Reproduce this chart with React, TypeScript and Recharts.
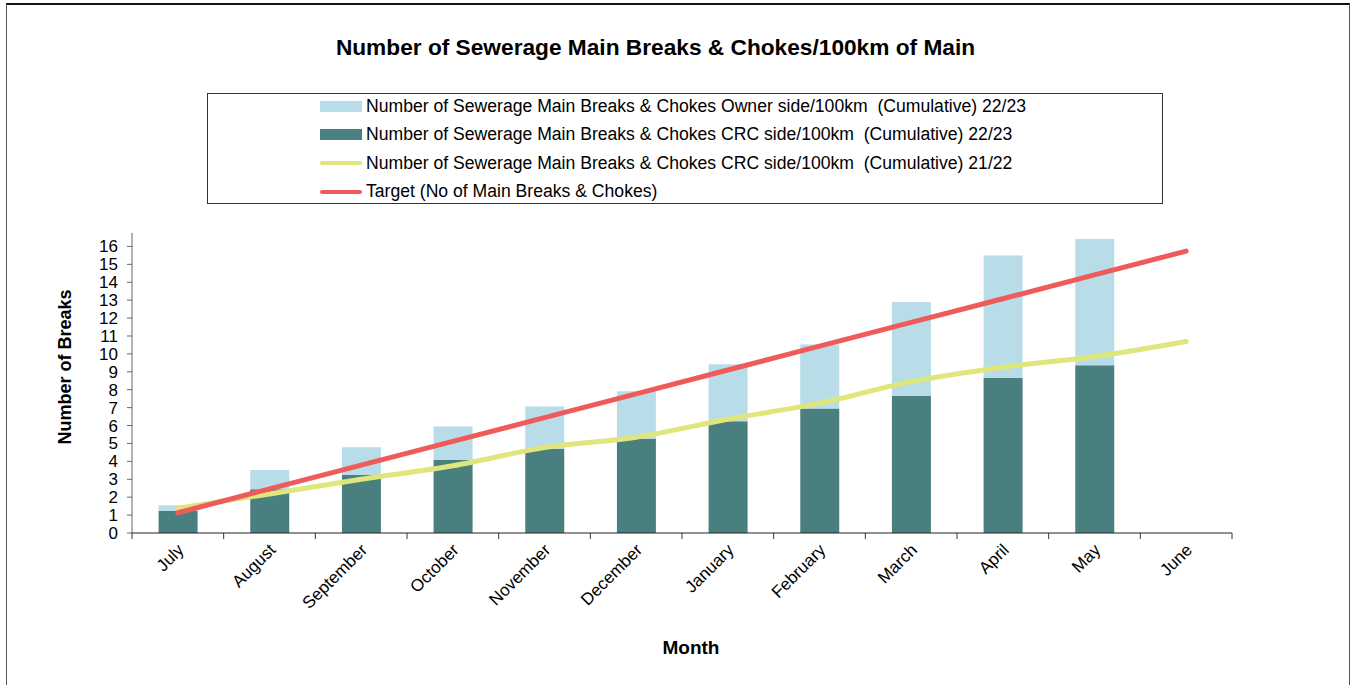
import { ComposedChart, Bar, Line, XAxis, YAxis, Label } from "recharts";

const months = [
  "July", "August", "September", "October", "November", "December",
  "January", "February", "March", "April", "May", "June",
];
// CRC side cumulative 22/23 (dark bars)
const crc2223 = [1.23, 2.44, 3.24, 4.08, 4.69, 5.25, 6.24, 6.95, 7.67, 8.66, 9.37, null];
// Owner side cumulative 22/23 (light bars, stacked on top)
const owner2223 = [0.32, 1.08, 1.55, 1.86, 2.37, 2.67, 3.18, 3.57, 5.23, 6.83, 7.05, null];
// CRC side cumulative 21/22 (yellow line)
const crc2122 = [1.38, 2.18, 3.0, 3.75, 4.77, 5.35, 6.35, 7.25, 8.45, 9.26, 9.85, 10.69];
// Target (red line)
const target = [1.13, 2.46, 3.79, 5.12, 6.44, 7.77, 9.1, 10.43, 11.76, 13.08, 14.41, 15.74];
const yTicks = [0, 1, 2, 3, 4, 5, 6, 7, 8, 9, 10, 11, 12, 13, 14, 15, 16];

const data = months.map((m, i) => ({
  month: m,
  crc: crc2223[i],
  owner: owner2223[i],
  prev: crc2122[i],
  target: target[i],
}));

const FONT = '"Liberation Sans", Arial, sans-serif';
const LIGHT = "#B8DDE8";
const DARK = "#4A7F80";
const YELLOW = "#DEE67C";
const RED = "#EF5B5B";

const PLOT_LEFT = 132;
const PLOT_RIGHT = 1232;
const BAND = (PLOT_RIGHT - PLOT_LEFT) / months.length;

const MonthTick = (props: any) => {
  const { x, y, payload, index } = props;
  return (
    <g>
      <line x1={x - BAND / 2} y1={y} x2={x - BAND / 2} y2={y + 6} stroke="#333" />
      {index === months.length - 1 && (
        <line x1={x + BAND / 2} y1={y} x2={x + BAND / 2} y2={y + 6} stroke="#333" />
      )}
      <text
        x={x + 7}
        y={y + 18}
        transform={`rotate(-45, ${x + 7}, ${y + 18})`}
        textAnchor="end"
        fontSize={17}
        fontFamily={FONT}
        fill="#000"
      >
        {payload.value}
      </text>
    </g>
  );
};

const legendItems = [
  { label: "Number of Sewerage Main Breaks & Chokes Owner side/100km  (Cumulative) 22/23", color: LIGHT, bar: true },
  { label: "Number of Sewerage Main Breaks & Chokes CRC side/100km  (Cumulative) 22/23", color: DARK, bar: true },
  { label: "Number of Sewerage Main Breaks & Chokes CRC side/100km  (Cumulative) 21/22", color: YELLOW, bar: false },
  { label: "Target (No of Main Breaks & Chokes)", color: RED, bar: false },
];

export default function App() {
  return (
    <div style={{ position: "absolute", left: 0, top: 0, width: 1353, height: 685, background: "#fff", overflow: "hidden", fontFamily: FONT }}>
      <div style={{ position: "absolute", left: 6, top: 3, width: 1342, height: 700, border: "1px solid #555", borderTop: "2px solid #111" }} />
      <div style={{ position: "absolute", left: 0, width: 1311, top: 34, textAlign: "center", fontSize: 22.7, fontWeight: "bold", color: "#000" }}>
        Number of Sewerage Main Breaks &amp; Chokes/100km of Main
      </div>
      <div style={{ position: "absolute", left: 207, top: 93, width: 956, height: 111, border: "1px solid #333", boxSizing: "border-box" }}>
        {legendItems.map((it, i) => (
          <div key={i} style={{ position: "absolute", left: 112, top: 0 + i * 28.5, height: 24, display: "flex", alignItems: "center", fontSize: 17.6, whiteSpace: "pre", color: "#000" }}>
            <div style={{ width: 42, height: it.bar ? 11 : 4, background: it.color, borderRadius: it.bar ? 0 : 2, marginRight: 4 }} />
            {it.label}
          </div>
        ))}
      </div>
      <div style={{ position: "absolute", left: 65, top: 367, transform: "translate(-50%, -50%) rotate(-90deg)", fontSize: 18, fontWeight: "bold", whiteSpace: "nowrap" }}>
        Number of Breaks
      </div>
      <div style={{ position: "absolute", left: 0, top: 0 }}>
        <ComposedChart
          width={1353}
          height={685}
          data={data}
          margin={{ top: 233, right: 1353 - PLOT_RIGHT, left: PLOT_LEFT - 40, bottom: 27 }}
          barCategoryGap="29%"
        >
          <XAxis
            dataKey="month"
            interval={0}
            height={125}
            tickLine={false}
            tickSize={0}
            tickMargin={0}
            tick={<MonthTick />}
            axisLine={{ stroke: "#222" }}
          >
            <Label value="Month" position="insideBottom" offset={4} dx={9} fontSize={19} fontWeight="bold" fill="#000" fontFamily={FONT} />
          </XAxis>
          <YAxis
            width={40}
            domain={[0, 16.75]}
            ticks={yTicks}
            interval={0}
            tickSize={5}
            tickMargin={9}
            tick={{ fontSize: 17, fill: "#000", fontFamily: FONT }}
            axisLine={{ stroke: "#666" }}
            tickLine={{ stroke: "#666" }}
          />
          <Bar dataKey="crc" stackId="a" fill={DARK} isAnimationActive={false} />
          <Bar dataKey="owner" stackId="a" fill={LIGHT} isAnimationActive={false} />
          <Line dataKey="prev" type="monotone" stroke={YELLOW} strokeWidth={5} dot={false} strokeLinecap="round" isAnimationActive={false} />
          <Line dataKey="target" type="linear" stroke={RED} strokeWidth={5} dot={false} strokeLinecap="round" isAnimationActive={false} />
        </ComposedChart>
      </div>
    </div>
  );
}
